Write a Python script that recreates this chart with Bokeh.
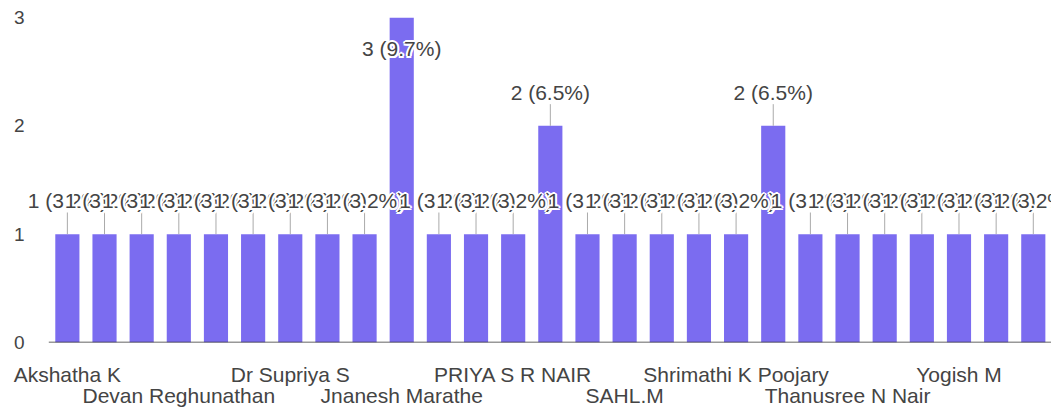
from bokeh.plotting import figure
from bokeh.models import FixedTicker, LinearAxis, ColumnDataSource, Range1d, LabelSet
from bokeh.core.properties import value
from bokeh.embed import file_html
from bokeh.resources import INLINE

# ---- data ----
names = ["Akshatha K", "", "", "Devan Reghunathan", "", "", "Dr Supriya S", "", "",
         "Jnanesh Marathe", "", "", "PRIYA S R NAIR", "", "", "SAHL.M", "", "",
         "Shrimathi K Poojary", "", "", "Thanusree N Nair", "", "", "Yogish M", "", ""]
counts = [1, 1, 1, 1, 1, 1, 1, 1, 1, 3, 1, 1, 1, 2, 1, 1, 1, 1, 1, 2, 1, 1, 1, 1, 1, 1, 1]
y_ticks = [0, 1, 2, 3]

total = sum(counts)
xs = list(range(1, len(counts) + 1))
labels = [f"{c} ({c / total * 100:.1f}%)" for c in counts]
ymax = max(counts)
ncat = len(counts)

FONT = "Liberation Sans"
TXT = "#444444"

p = figure(width=1051, height=409, output_backend="svg", toolbar_location=None,
           x_range=Range1d(-0.1, ncat + 0.49), y_range=Range1d(0, ymax),
           min_border_left=26, min_border_right=0, min_border_top=17, min_border_bottom=67)
p.outline_line_color = None
p.xgrid.visible = False
p.ygrid.visible = False

src = ColumnDataSource(dict(x=xs, top=counts))
p.vbar(x="x", top="top", width=0.65, source=src, fill_color="#7b6cf0", line_color=None)

# baseline (category area only)
p.segment(x0=[0.5], y0=[0], x1=[ncat + 0.5], y1=[0], line_color="#333333", line_width=1.5)

# stems and labels
lab_y = [c + 0.31 if c < ymax else c - 0.29 for c in counts]
stem_x = [x for x, c in zip(xs, counts) if c < ymax]
stem_y0 = [c for c in counts if c < ymax]
stem_y1 = [c + 0.2 for c in counts if c < ymax]
p.segment(x0=stem_x, y0=stem_y0, x1=stem_x, y1=stem_y1, line_color="#aaaaaa", line_width=1)

halo = [(-2, 0), (2, 0), (0, -2), (0, 2), (-1.5, -1.5), (1.5, -1.5), (-1.5, 1.5), (1.5, 1.5)]
for x, yv, t in zip(xs, lab_y, labels):
    n = len(halo) + 1
    lsrc = ColumnDataSource(dict(
        x=[x] * n, y=[yv] * n, t=[t] * n,
        xo=[h[0] for h in halo] + [0], yo=[h[1] for h in halo] + [0],
        c=["white"] * len(halo) + [TXT]))
    p.add_layout(LabelSet(x="x", y="y", text="t", x_offset="xo", y_offset="yo",
                          text_color="c", source=lsrc, text_align="center",
                          text_baseline="middle", text_font=value(FONT),
                          text_font_size="21px"))

# y axis
p.yaxis.ticker = FixedTicker(ticks=y_ticks)
p.yaxis.axis_line_color = None
p.yaxis.major_tick_line_color = None
p.yaxis.minor_tick_line_color = None
p.yaxis.major_tick_out = 0
p.yaxis.major_label_standoff = 2
p.yaxis.major_label_text_font = FONT
p.yaxis.major_label_text_font_size = "19px"
p.yaxis.major_label_text_color = TXT

# x axes (two staggered rows)
named = [(i + 1, n) for i, n in enumerate(names) if n]
row1 = named[0::2]
row2 = named[1::2]

def style_x(ax, standoff):
    ax.axis_line_color = None
    ax.major_tick_line_color = None
    ax.minor_tick_line_color = None
    ax.major_tick_out = 0
    ax.major_tick_in = 0
    ax.minor_tick_out = 0
    ax.axis_label_standoff = 0
    ax.major_label_standoff = standoff
    ax.major_label_text_font = FONT
    ax.major_label_text_font_size = "21px"
    ax.major_label_text_color = TXT

ax1 = p.xaxis[0]
ax1.ticker = FixedTicker(ticks=[t for t, _ in row1])
ax1.major_label_overrides = {t: n for t, n in row1}
style_x(ax1, 20)

ax2 = LinearAxis(ticker=FixedTicker(ticks=[t for t, _ in row2]),
                 major_label_overrides={t: n for t, n in row2})
style_x(ax2, -5)
p.add_layout(ax2, "below")

open("out.html", "w").write(file_html(p, INLINE))
